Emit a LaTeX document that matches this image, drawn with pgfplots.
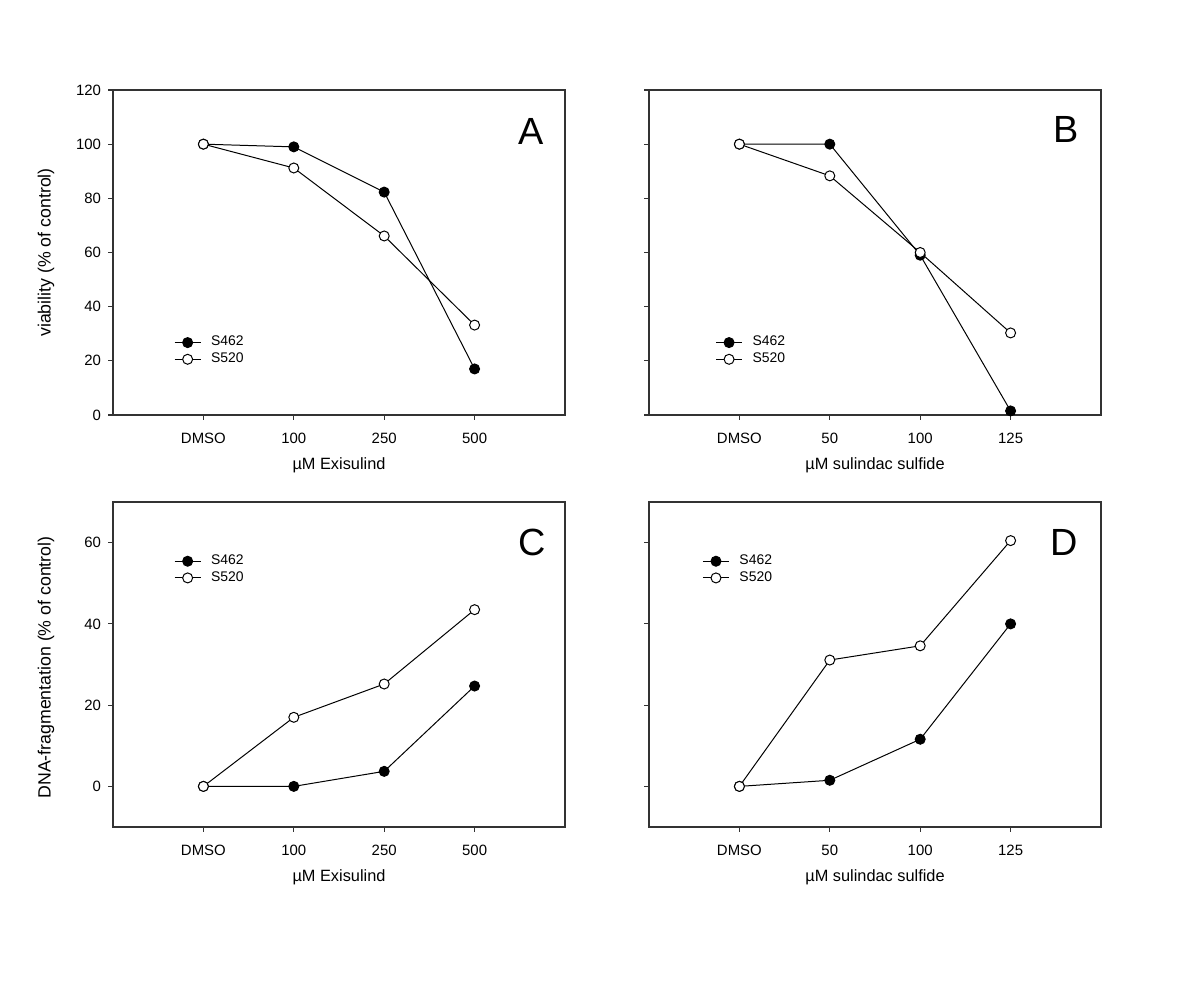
\documentclass[border=0pt]{standalone}
\usepackage{fontspec}
\setmainfont{Liberation Sans}
\usepackage{pgfplots}
\pgfplotsset{compat=1.18}
\pgfplotsset{
  panel/.style={
    scale only axis, width=226bp, height=162.5bp,
    xmin=-1, xmax=4,
    xtick={0,1,2,3},
    tick pos=left, tick align=outside,
    major tick length=2.5bp,
    axis line style={line width=0.8pt, black!80},
    tick style={black!80, line width=0.6pt},
    /pgf/number format/assume math mode=true,
    ticklabel style={font=\fontsize{7.5}{9}\selectfont},
    xticklabel style={yshift=-3bp},
    label style={font=\fontsize{8.2}{10}\selectfont},
    every axis y label/.style={at={(rel axis cs:0,0.5)}, xshift=-33.5bp, rotate=90, anchor=center, font=\fontsize{8.9}{10}\selectfont},
    legend style={draw=none, fill=none, font=\fontsize{7}{8}\selectfont, row sep=-2bp, inner sep=1pt, anchor=north west, legend cell align=left,
      /tikz/every odd column/.append style={column sep=3bp}},
    legend image code/.code={
      \draw[mark repeat=2,mark phase=2,#1] plot coordinates {(0bp,0bp) (6.5bp,0bp) (13bp,0bp)};},
  },
  s462/.style={black, line width=0.5pt, mark=*, mark size=2.5bp, mark options={fill=black, draw=black}},
  s520/.style={black, line width=0.5pt, mark=*, mark size=2.5bp, mark options={fill=white, draw=black}},
}
\begin{document}
\begin{tikzpicture}
\path[use as bounding box] (0,0) rectangle (599.5bp,500bp);
% A
\begin{axis}[panel, at={(56.5bp,292.5bp)}, anchor=south west,
  ymin=0, ymax=120, ytick={0,20,40,60,80,100,120},
  xticklabels={DMSO,100,250,500},
  xlabel={µM Exisulind}, ylabel={viability (\% of control)},
  legend style={at={(rel axis cs:0.13,0.262)}}]
\addplot[s462] coordinates {(0,100) (1,99) (2,82.3) (3,17)};
\addplot[s520] coordinates {(0,100) (1,91.2) (2,66.1) (3,33.2)};
\legend{S462,S520}
\node[font=\fontsize{19}{20}\selectfont] at (rel axis cs:0.925,0.871) {A};
\end{axis}
% B
\begin{axis}[panel, at={(324.5bp,292.5bp)}, anchor=south west,
  ymin=0, ymax=120, ytick={0,20,40,60,80,100,120}, yticklabels={},
  xticklabels={DMSO,50,100,125},
  xlabel={µM sulindac sulfide},
  legend style={at={(rel axis cs:0.142,0.262)}}]
\addplot[s462] coordinates {(0,100) (1,100) (2,59) (3,1.5)};
\addplot[s520] coordinates {(0,100) (1,88.3) (2,60) (3,30.3)};
\legend{S462,S520}
\node[font=\fontsize{19}{20}\selectfont] at (rel axis cs:0.922,0.877) {B};
\end{axis}
% C
\begin{axis}[panel, at={(56.5bp,86.5bp)}, anchor=south west,
  ymin=-10, ymax=70, ytick={0,20,40,60},
  xticklabels={DMSO,100,250,500},
  xlabel={µM Exisulind}, ylabel={DNA-fragmentation (\% of control)},
  ylabel style={xshift=-1.5bp},
  legend style={at={(rel axis cs:0.13,0.857)}}]
\addplot[s462] coordinates {(0,0) (1,0) (2,3.7) (3,24.7)};
\addplot[s520] coordinates {(0,0) (1,17) (2,25.2) (3,43.5)};
\legend{S462,S520}
\node[font=\fontsize{19}{20}\selectfont] at (rel axis cs:0.928,0.877) {C};
\end{axis}
% D
\begin{axis}[panel, at={(324.5bp,86.5bp)}, anchor=south west,
  ymin=-10, ymax=70, ytick={0,20,40,60}, yticklabels={},
  xticklabels={DMSO,50,100,125},
  xlabel={µM sulindac sulfide},
  legend style={at={(rel axis cs:0.113,0.857)}}]
\addplot[s462] coordinates {(0,0) (1,1.5) (2,11.6) (3,40)};
\addplot[s520] coordinates {(0,0) (1,31.1) (2,34.6) (3,60.5)};
\legend{S462,S520}
\node[font=\fontsize{19}{20}\selectfont] at (rel axis cs:0.918,0.877) {D};
\end{axis}
\end{tikzpicture}
\end{document}
